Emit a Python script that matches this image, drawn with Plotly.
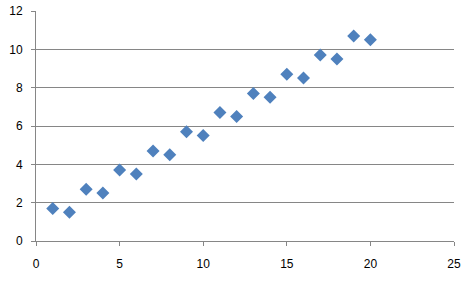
import plotly.graph_objects as go

x_vals = [1, 2, 3, 4, 5, 6, 7, 8, 9, 10, 11, 12, 13, 14, 15, 16, 17, 18, 19, 20]
y_vals = [1.7, 1.5, 2.7, 2.5, 3.7, 3.5, 4.7, 4.5, 5.7, 5.5, 6.7, 6.5, 7.7, 7.5, 8.7, 8.5, 9.7, 9.5, 10.7, 10.5]
x_ticks = [0, 5, 10, 15, 20, 25]
y_ticks = [0, 2, 4, 6, 8, 10, 12]

axis_color = "#868686"
font = dict(family="Liberation Sans, Arial, sans-serif", size=12, color="#000000")

fig = go.Figure()
fig.add_trace(go.Scatter(
    x=x_vals, y=y_vals, mode="markers",
    marker=dict(symbol="diamond", size=10, color="#4F81BD", line=dict(width=0)),
    showlegend=False,
))

fig.update_layout(
    width=471, height=281,
    margin=dict(l=36, r=17, t=11, b=40, autoexpand=False),
    paper_bgcolor="white", plot_bgcolor="white",
    font=font,
    xaxis=dict(
        range=[0, 25], tickvals=x_ticks, ticktext=[str(v) for v in x_ticks],
        showgrid=False, zeroline=False,
        showline=True, linecolor=axis_color, linewidth=1,
        ticks="outside", ticklen=4, tickcolor=axis_color, tickwidth=1,
        ticklabelstandoff=8, fixedrange=True, automargin=False,
    ),
    yaxis=dict(
        range=[0, 12], tickvals=y_ticks, ticktext=[str(v) for v in y_ticks],
        showgrid=True, gridcolor=axis_color, gridwidth=1, zeroline=False,
        showline=True, linecolor=axis_color, linewidth=1,
        ticks="outside", ticklen=4, tickcolor=axis_color, tickwidth=1,
        ticklabelstandoff=6, fixedrange=True, automargin=False,
    ),
)

fig.write_html("out.html")
